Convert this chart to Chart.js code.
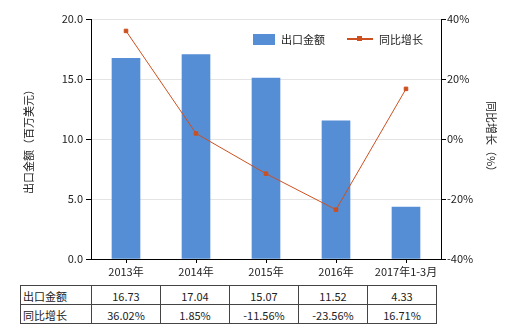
<!DOCTYPE html>
<html>
<head>
<meta charset="utf-8">
<script src="https://cdn.jsdelivr.net/npm/chart.js@4/dist/chart.umd.min.js"></script>
<style>
  body { margin: 0; background: #fff; font-family: "Noto Sans CJK SC", sans-serif; }
  #wrap { position: relative; width: 520px; height: 330px; }
  #c { position: absolute; left: 0; top: 0; }
  #legend { position: absolute; left: 253px; top: 31px; font-size: 11px; color: #222; display: flex; align-items: center; }
  .sw { display: inline-block; width: 22px; height: 11px; background: #558ed5; margin-right: 6px; }
  .ln { display: inline-block; width: 26px; height: 2px; background: #cc5020; margin: 0 6px 0 22px; position: relative; }
  .ln::after { content: ""; position: absolute; left: 10px; top: -2px; width: 5px; height: 5px; background: #cc5020; }
  table { position: absolute; left: 20px; top: 285px; border-collapse: collapse; font-size: 11px; color: #222; }
  td { border: 1px solid #444; height: 17px; padding: 1px 0 0 0; text-align: center; width: 68px; }
  td.h { text-align: left; width: 68px; padding-left: 2px; }
</style>
</head>
<body>
<div id="wrap">
  <canvas id="c" width="520" height="282"></canvas>
  <div id="legend"><span class="sw"></span>出口金额<span class="ln"></span>同比增长</div>
  <table id="tbl"></table>
</div>
<script>
const categories = ['2013年', '2014年', '2015年', '2016年', '2017年1-3月'];
const exportValues = [16.73, 17.04, 15.07, 11.52, 4.33];
const growthValues = [36.02, 1.85, -11.56, -23.56, 16.71];

// build the data table under the chart
const tbl = document.getElementById('tbl');
const row1 = '<tr><td class="h">出口金额</td>' + exportValues.map(v => `<td>${v.toFixed(2)}</td>`).join('') + '</tr>';
const row2 = '<tr><td class="h">同比增长</td>' + growthValues.map(v => `<td>${v.toFixed(2)}%</td>`).join('') + '</tr>';
tbl.innerHTML = row1 + row2;

const font = { family: '"Noto Sans CJK SC", sans-serif', size: 11 };

new Chart(document.getElementById('c'), {
    type: 'bar',
    data: {
        labels: categories,
        datasets: [{
            type: 'line',
            label: '同比增长',
            data: growthValues,
            yAxisID: 'y1',
            borderColor: '#cc5020',
            backgroundColor: '#cc5020',
            borderWidth: 1,
            pointStyle: 'rect',
            pointRadius: 2.5,
            tension: 0
        }, {
            label: '出口金额',
            data: exportValues,
            yAxisID: 'y',
            backgroundColor: '#558ed5',
            barThickness: 28
        }]
    },
    options: {
        responsive: false,
        animation: false,
        layout: { padding: { top: 19, left: 0, right: 0, bottom: 0 } },
        plugins: { legend: { display: false }, tooltip: { enabled: false } },
        scales: {
            x: {
                afterFit: s => { s.height = 23; },
                grid: { offset: false, drawOnChartArea: false, tickLength: 4, color: '#000' },
                border: { color: '#000' },
                ticks: { color: '#222', font: font, padding: 2 }
            },
            y: {
                position: 'left',
                min: 0, max: 20,
                afterFit: s => { s.width = 91; },
                ticks: { stepSize: 5, color: '#222', font: font, callback: v => v.toFixed(1), padding: 3 },
                grid: { color: '#e4e4e4', tickColor: '#000', tickLength: 5 },
                border: { color: '#000' },
                title: { display: true, text: '出口金额（百万美元）', color: '#222', font: font, padding: { top: 22, bottom: 0 } }
            },
            y1: {
                position: 'right',
                min: -40, max: 40,
                afterFit: s => { s.width = 79; },
                ticks: { stepSize: 20, color: '#222', font: font, callback: v => v + '%', padding: 1 },
                grid: { drawOnChartArea: false, tickColor: '#000', tickLength: 5 },
                border: { color: '#000' },
                title: { display: true, text: '同比增长（%）', color: '#222', font: font, padding: { top: 22, bottom: 0 } }
            }
        }
    }
});
</script>
</body>
</html>
